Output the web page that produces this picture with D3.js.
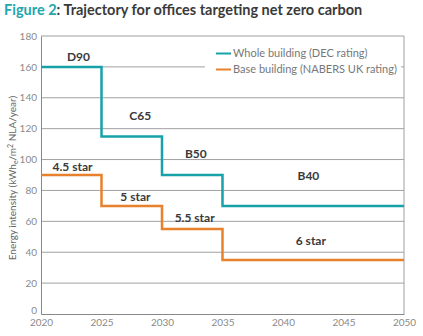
<!DOCTYPE html>
<html>
<head>
<meta charset="utf-8">
<script src="https://cdn.jsdelivr.net/npm/d3@7"></script>
<style>
  body { margin: 0; background: #fff; }
  svg { display: block; font-family: "Lato", "Open Sans", sans-serif; }
</style>
</head>
<body>
<div id="chart"></div>
<script>
// data
var years = [2020, 2025, 2030, 2035, 2040, 2045, 2050];
var yTicks = [0, 20, 40, 60, 80, 100, 120, 140, 160, 180];
var stepYears = [2020, 2025, 2030, 2035, 2050];
var wholeValues = [160, 115, 90, 70, 70];
var baseValues = [90, 70, 55, 35, 35];
var wholeLabels = ["D90", "C65", "B50", "B40"];
var baseLabels = ["4.5 star", "5 star", "5.5 star", "6 star"];
var seriesNames = ["Whole building (DEC rating)", "Base building (NABERS UK rating)"];

var teal = "#17a2aa", orange = "#e8812c";

var W = 423, H = 336;
var margin = {top: 36, right: 19, bottom: 22, left: 41};

var svg = d3.select("#chart")
    .append("svg")
    .attr("width", W)
    .attr("height", H);

var x = d3.scaleLinear()
    .domain([2020, 2050])
    .range([margin.left, W - margin.right]);

var y = d3.scaleLinear()
    .domain([0, 180])
    .range([H - margin.bottom, margin.top]);

// title
var title = svg.append("text")
    .attr("x", 4)
    .attr("y", 15)
    .style("font-size", "14.5px")
    .style("font-weight", "bold")
    .style("fill", "#3a3a3a");
title.append("tspan").style("fill", "#22a6b0").text("Figure 2");
title.append("tspan").text(": Trajectory for offices targeting net zero carbon");

// gridlines
svg.append("g")
    .selectAll("line")
    .data(yTicks.slice(1))
    .enter()
    .append("line")
    .attr("x1", x(2020))
    .attr("x2", x(2050))
    .attr("y1", d => y(d))
    .attr("y2", d => y(d))
    .attr("stroke", "#a0a0a0")
    .attr("stroke-width", 1);

// right border
svg.append("line")
    .attr("x1", x(2050)).attr("x2", x(2050))
    .attr("y1", y(180)).attr("y2", y(0))
    .attr("stroke", "#a0a0a0");

// axes
var yAxis = svg.append("g")
    .attr("transform", "translate(" + margin.left + ",0)")
    .call(d3.axisLeft(y).tickValues(yTicks).tickSize(0).tickPadding(4));
var xAxis = svg.append("g")
    .attr("transform", "translate(0," + y(0) + ")")
    .call(d3.axisBottom(x).tickValues(years).tickFormat(d3.format("d")).tickSize(0).tickPadding(5));

[yAxis, xAxis].forEach(function(a) {
  a.select(".domain").attr("stroke", "#888");
  a.selectAll("text")
    .style("font-family", "Lato, sans-serif")
    .style("font-size", "10px")
    .style("fill", "#8a8a8a");
});
yAxis.selectAll(".tick").filter(d => d == 0).select("text").attr("dy", "-0.1em");

// y axis title
var yt = svg.append("text")
    .attr("transform", "translate(16," + y(88) + ") rotate(-90)")
    .attr("text-anchor", "middle")
    .style("font-size", "10px")
    .style("fill", "#666");
yt.append("tspan").text("Energy intensity (kWh");
yt.append("tspan").attr("dy", 2).style("font-size", "7px").text("e");
yt.append("tspan").attr("dy", -2).text("/m");
yt.append("tspan").attr("dy", -3).style("font-size", "7px").text("2");
yt.append("tspan").attr("dy", 3).text(" NLA/year)");

// legend background
svg.append("rect")
    .attr("x", 205).attr("y", 42)
    .attr("width", 196).attr("height", 44)
    .attr("fill", "#fff");

var legend = svg.append("g");
seriesNames.forEach(function(name, i) {
  var ly = 57 + i * 16;
  legend.append("line")
    .attr("x1", 216).attr("x2", 231)
    .attr("y1", ly - 3.5).attr("y2", ly - 3.5)
    .attr("stroke", i == 0 ? teal : orange)
    .attr("stroke-width", 2);
  legend.append("text")
    .attr("x", 233).attr("y", ly)
    .style("font-size", "11px")
    .style("fill", "#777")
    .text(name);
});

// step lines
var line = d3.line()
    .x(d => x(d[0]))
    .y(d => y(d[1]))
    .curve(d3.curveStepAfter);

svg.append("path")
    .datum(d3.zip(stepYears, wholeValues))
    .attr("d", line)
    .attr("fill", "none")
    .attr("stroke", teal)
    .attr("stroke-width", 2.5);

svg.append("path")
    .datum(d3.zip(stepYears, baseValues))
    .attr("d", line)
    .attr("fill", "none")
    .attr("stroke", orange)
    .attr("stroke-width", 2.5);

// step labels
var wholeLabelPos = [[2023.1, 164], [2028.2, 125.3], [2032.8, 101], [2042.1, 87]];
var baseLabelPos = [[2022.6, 92.6], [2027.8, 73.2], [2032.7, 59.5], [2042.3, 44.7]];

function addLabels(labels, pos) {
  svg.append("g")
    .selectAll("text")
    .data(labels)
    .enter()
    .append("text")
    .attr("x", (d, i) => x(pos[i][0]))
    .attr("y", (d, i) => y(pos[i][1]))
    .attr("text-anchor", "middle")
    .style("font-size", "12px")
    .style("font-weight", "bold")
    .style("fill", "#3a3a3a")
    .text(d => d);
}
addLabels(wholeLabels, wholeLabelPos);
addLabels(baseLabels, baseLabelPos);
</script>
</body>
</html>
